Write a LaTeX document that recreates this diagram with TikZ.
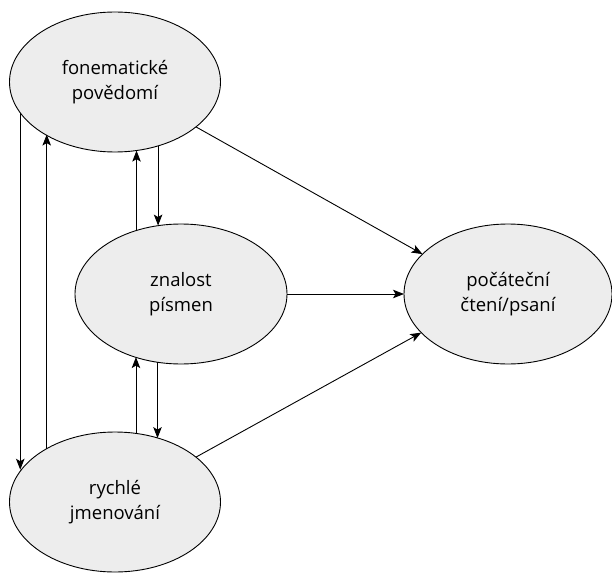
\documentclass[tikz,border=0pt]{standalone}
\usepackage{fontspec}
\setmainfont{Open Sans}
\usetikzlibrary{shapes.geometric,arrows.meta}
\definecolor{nodefill}{HTML}{EDEDED}
\tikzset{
  bubble/.style={ellipse, draw=black, line width=0.9pt, fill=nodefill,
    minimum width=211pt, minimum height=140pt, inner sep=0pt, outer sep=0pt,
    align=center, font=\fontsize{18.5}{25.5}\selectfont},
  link/.style={line width=0.9pt, -{Stealth[length=11pt,width=8.5pt,inset=2.5pt]}}
}
\begin{document}
\begin{tikzpicture}[x=1pt,y=-1pt]
\useasboundingbox (0,0) rectangle (612,572);
\node[bubble] (E1) at (115,82) {fonematické\\povědomí};
\node[bubble, minimum width=212pt] (E2) at (181,294) {znalost\\písmen};
\node[bubble, minimum width=208pt] (E3) at (508,294) {počáteční\\čtení/psaní};
\node[bubble] (E4) at (115,502) {rychlé\\jmenování};
% vertical connectors
\draw[link] (E1.198.4) -- (E1.198.4 |- E4.161.6);
\draw[link] (E4.142.6) -- (E4.142.6 |- E1.217.4);
\draw[link] (E2.125.4) -- (E2.125.4 |- E1.-73);
\draw[link] (E1.-56.06) -- (E1.-56.06 |- E2.108.6);
\draw[link] (E4.73) -- (E4.73 |- E2.234.6);
\draw[link] (E2.251.4) -- (E2.251.4 |- E4.56.06);
% to reading
\draw[link] (E1.-29.5) -- (E3.155.5);
\draw[link] (E2.east) -- (E3.west);
\draw[link] (E4.29.5) -- (E3.204.5);
\end{tikzpicture}
\end{document}
